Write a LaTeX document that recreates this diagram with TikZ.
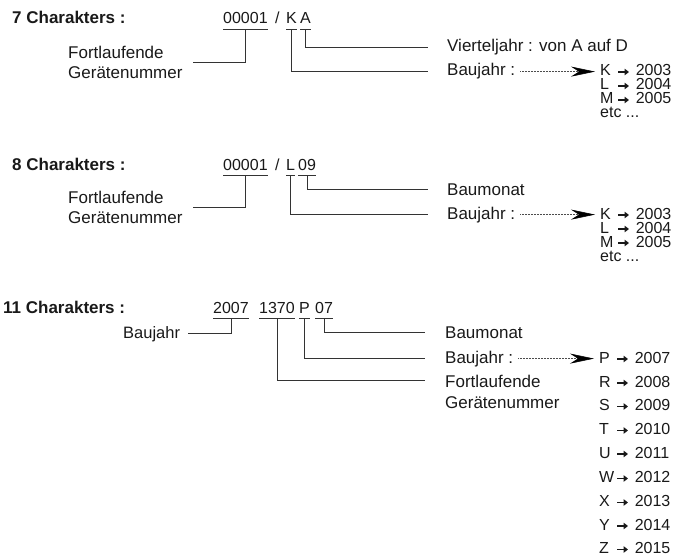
\documentclass[tikz,border=0pt]{standalone}
\usepackage{fontspec}
\setmainfont{Liberation Sans}
\usetikzlibrary{arrows.meta,positioning}

% letter -> year row of a list
\newcommand{\yr}[2]{\makebox[17pt][l]{#1}\tikz[baseline=-4pt]\draw[black!90,
  line width=1.6pt,-{Triangle[length=4.5pt,width=6.5pt]}] (0pt,0pt) -- (11pt,0pt);\hspace{6pt}#2}

\begin{document}
\begin{tikzpicture}[x=1pt,y=-1pt]
    \tikzstyle{hd} = [font=\fontsize{17}{20}\selectfont\bfseries,
    anchor=base west, inner sep=0pt, text=black!90];
    \tikzstyle{cd} = [font=\fontsize{16}{19}\selectfont,
    anchor=base west, inner xsep=0pt, inner ysep=5pt, text=black!90];
    \tikzstyle{lb} = [font=\fontsize{17}{20.4}\selectfont,
    anchor=base west, inner sep=0pt, text=black!90];
    \tikzstyle{ls} = [font=\fontsize{16}{16}\selectfont,
    anchor=base west, inner sep=0pt, text=black!90];
    \tikzstyle{ul} = [black!80, line width=0.9pt];
    \tikzstyle{ln} = [black!80, line width=0.9pt, shorten >=19pt];
    \tikzstyle{lf} = [black!80, line width=0.9pt, shorten >=10pt];
    \tikzstyle{dt} = [black!70, densely dotted, line width=0.5pt,
    shorten <=5pt, shorten >=5pt,
    -{Stealth[length=24pt,width=10pt,inset=8pt,black]}];

    \useasboundingbox (0,0) rectangle (680,559);

    % 7 characters
    \node[hd] (h1) at (12,24) {7 Charakters :};
    \node[cd] (n1) at (223,24) {00001};
    \node[cd] (s1) at (275,24) {/};
    \node[cd] (k1) at (286,24) {K};
    \node[cd] (a1) at (300,24) {A};

    \node[lb, anchor=north west, align=left] (fg1) at (68,46)
      {Fortlaufende\\Gerätenummer};
    \node[lb] (vj1) at (447,52) {Vierteljahr : von A auf D};
    \node[lb] (bj1) at (447,76) {Baujahr :};

    \node[ls] (y1k) at (600,76) {\yr{K}{2003}};
    \node[ls] (y1l) at (600,90) {\yr{L}{2004}};
    \node[ls] (y1m) at (600,104) {\yr{M}{2005}};
    \node[ls] (y1e) at (600,118) {etc ...};

    \draw[ul] (n1.south west) -- (n1.south east);
    \draw[ul] (k1.south west) -- (k1.south east);
    \draw[ul] (a1.south west) -- (a1.south east);
    \draw[lf] (n1.south) |- (fg1.east);
    \draw[ln] (a1.south) |- (vj1.west);
    \draw[ln] (k1.south) |- (bj1.west);
    \draw[dt] (bj1.east) -- (bj1.east -| y1k.west);

    % 8 characters
    \node[hd] (h2) at (12,170) {8 Charakters :};
    \node[cd] (n2) at (223,170) {00001};
    \node[cd] (s2) at (275,170) {/};
    \node[cd] (l2) at (286,170) {L};
    \node[cd] (m2) at (298,170) {09};

    \node[lb, anchor=north west, align=left] (fg2) at (68,190.5)
      {Fortlaufende\\Gerätenummer};
    \node[lb] (bm2) at (447,195) {Baumonat};
    \node[lb] (bj2) at (447,219) {Baujahr :};

    \node[ls] (y2k) at (600,219) {\yr{K}{2003}};
    \node[ls] (y2l) at (600,233) {\yr{L}{2004}};
    \node[ls] (y2m) at (600,247) {\yr{M}{2005}};
    \node[ls] (y2e) at (600,261) {etc ...};

    \draw[ul] (n2.south west) -- (n2.south east);
    \draw[ul] (l2.south west) -- (l2.south east);
    \draw[ul] (m2.south west) -- (m2.south east);
    \draw[lf] (n2.south) |- (fg2.east);
    \draw[ln] (m2.south) |- (bm2.west);
    \draw[ln] (l2.south) |- (bj2.west);
    \draw[dt] (bj2.east) -- (bj2.east -| y2k.west);

    % 11 characters
    \node[hd] (h3) at (3,313) {11 Charakters :};
    \node[cd] (j3) at (213,313) {2007};
    \node[cd] (c3) at (259,313) {1370};
    \node[cd] (p3) at (299,313) {P};
    \node[cd] (m3) at (315,313) {07};

    \node[lb, font=\fontsize{16.5}{19}\selectfont] (bjl) at (123,338) {Baujahr};
    \node[lb] (bm3) at (445,338) {Baumonat};
    \node[lb] (bj3) at (445,363) {Baujahr :};
    \node[lb] (fl3) at (445,387) {Fortlaufende};
    \node[lb] (gn3) at (445,408) {Gerätenummer};

    \node[ls] (y3p) at (599,363) {\yr{P}{2007}};
    \node[ls] (y3r) at (599,387) {\yr{R}{2008}};
    \node[ls] (y3s) at (599,410.5) {\yr{S}{2009}};
    \node[ls] (y3t) at (599,434.5) {\yr{T}{2010}};
    \node[ls] (y3u) at (599,458) {\yr{U}{2011}};
    \node[ls] (y3w) at (599,482.5) {\yr{W}{2012}};
    \node[ls] (y3x) at (599,506.5) {\yr{X}{2013}};
    \node[ls] (y3y) at (599,530) {\yr{Y}{2014}};
    \node[ls] (y3z) at (599,553.5) {\yr{Z}{2015}};

    \draw[ul] (j3.south west) -- (j3.south east);
    \draw[ul] (c3.south west) -- (c3.south east);
    \draw[ul] (p3.south west) -- (p3.south east);
    \draw[ul] (m3.south west) -- (m3.south east);
    \draw[lf, shorten >=8pt] (j3.south) |- (bjl.east);
    \draw[ln, shorten >=20pt] (m3.south) |- (bm3.west);
    \draw[ln, shorten >=20pt] (p3.south) |- (bj3.west);
    \draw[ln, shorten >=20pt] (c3.south) |- (fl3.west);
    \draw[dt] (bj3.east) -- (bj3.east -| y3p.west);
\end{tikzpicture}
\end{document}
